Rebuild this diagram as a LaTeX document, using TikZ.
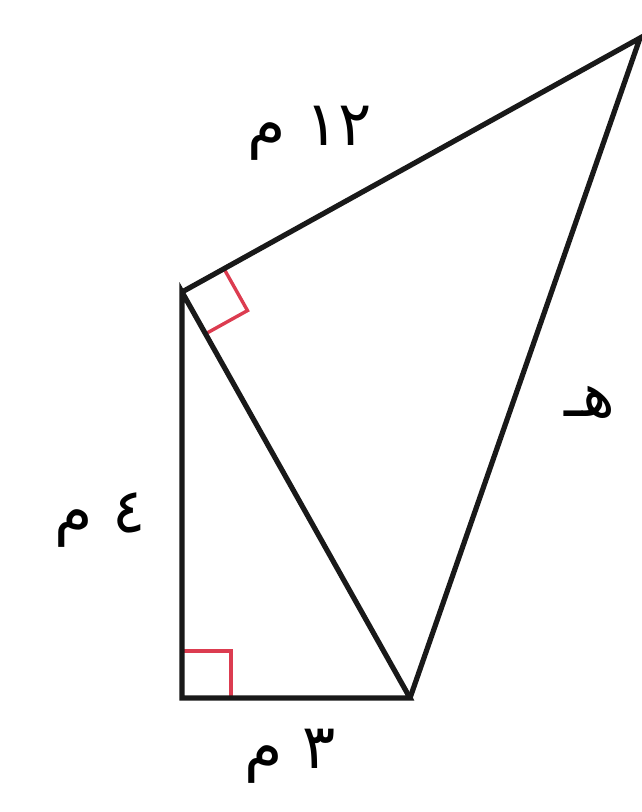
\documentclass[tikz,border=0pt]{standalone}
\usepackage{fontspec}
\usetikzlibrary{calc}
\newfontfamily\arabicfont[Script=Arabic]{DejaVu Sans}
\TeXXeTstate=1
\definecolor{angred}{RGB}{220,60,80}
\tikzset{
  edge/.style={line width=5.2pt, line join=miter, black!90},
  rightang/.style={line width=3.4pt, angred},
  lbl/.style={font=\arabicfont\fontsize{62}{70}\selectfont, inner sep=0pt}
}
\begin{document}
\begin{tikzpicture}[x=1pt,y=-1pt]
\useasboundingbox (0,0) rectangle (642,812);
\coordinate (A) at (182,292);
\coordinate (B) at (182,698);
\coordinate (C) at (410,698);
\coordinate (D) at (640,38);
\coordinate (P) at ($(A)!48pt!(D)$);
\coordinate (Q) at ($(A)!48pt!(C)$);
\coordinate (R) at ($(P)+(Q)-(A)$);
% right angle marks
\draw[rightang] (P) -- (R) -- (Q);
\draw[rightang] (182,651) -- (231,651) -- (231,698);
% edges
\draw[edge] (A) -- (B) -- (C) -- cycle;
\draw[edge] (A) -- (D) -- (C);
% labels
\node[lbl] (l12) at (310,133) {\beginR\beginL ١٢\endL{} م\endR};
\node[lbl] (lh) at (590,402) {\beginR هـ\endR};
\node[lbl] (l4) at (100,520) {\beginR\beginL ٤\endL{} م\endR};
\node[lbl] (l3) at (290,756) {\beginR\beginL ٣\endL{} م\endR};
\end{tikzpicture}
\end{document}
